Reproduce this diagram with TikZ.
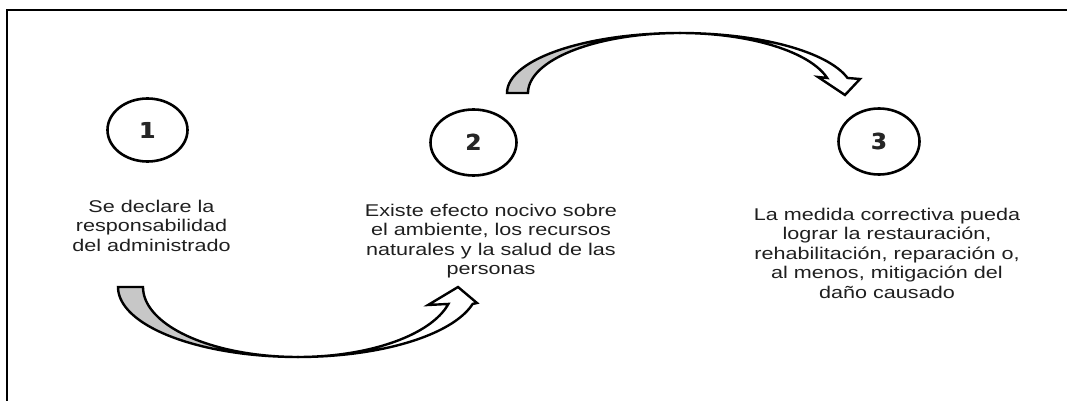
\documentclass[tikz,border=0pt]{standalone}
\usepackage{fontspec}
\setmainfont{Liberation Sans}
\newfontfamily\numfont{DejaVu Sans}
\newcommand\heavydigit[1]{\rlap{#1}\hspace{1.2pt}#1}
\usetikzlibrary{shapes.geometric}
\begin{document}
\begin{tikzpicture}[x=1pt,y=-1pt,
  num/.style={draw, ellipse, line width=2.6pt, inner sep=0pt,
    font=\numfont\fontsize{22}{22}\selectfont\bfseries, text=black!85},
  desc/.style={align=center, inner sep=0pt, anchor=north, xscale=1.27,
    font=\fontsize{17}{19.6}\selectfont, text=black!88},
  band/.style={draw, line width=2.4pt, line join=miter},
  shade/.style={fill=black!22}]
\useasboundingbox (0,0) rectangle (1067,401);
% frame
\draw[line width=2.8pt] (7,401) -- (7,10) -- (1067,10);
% circles
\node[num, minimum width=80pt, minimum height=63pt] (c1) at (147.5,130) {\heavydigit{1}};
\node[num, minimum width=86pt, minimum height=66pt] (c2) at (473.5,142.5) {\heavydigit{2}};
\node[num, minimum width=81pt, minimum height=66pt] (c3) at (879,141.5) {\heavydigit{3}};
% texts
\node[desc] (t1) at (151.5,199.6) {Se declare la\\responsabilidad\\del administrado};
\node[desc] (t2) at (491,203.6) {Existe efecto nocivo sobre\\el ambiente, los recursos\\naturales y la salud de las\\personas};
\node[desc] (t3) at (887,207.6) {La medida correctiva pueda\\lograr la restauración,\\rehabilitación, reparación o,\\al menos, mitigación del\\daño causado};
% bottom curved arrow (1 -> 2)
\draw[band, shade] plot[domain=180:90, samples=40, variable=\t] ({298+180*cos(\t)},{287+70*sin(\t)})
  -- plot[domain=90:180, samples=40, variable=\t] ({298+155*cos(\t)},{287+70*sin(\t)}) -- cycle;
\draw[band, fill=white] plot[domain=90:14, samples=40, variable=\t] ({298+180*cos(\t)},{287+70*sin(\t)})
  -- (477,303) -- (458,287) -- (428,305)
  -- plot[domain=14:90, samples=40, variable=\t] ({298+155*cos(\t)},{287+70*sin(\t)}) -- cycle;
% top curved arrow (2 -> 3)
\draw[band, shade] plot[domain=180:90, samples=40, variable=\t] ({680+173*cos(\t)},{93-60*sin(\t)})
  -- plot[domain=90:180, samples=40, variable=\t] ({680+152*cos(\t)},{93-60*sin(\t)}) -- cycle;
\draw[band, fill=white] plot[domain=90:14.5, samples=40, variable=\t] ({680+173*cos(\t)},{93-60*sin(\t)})
  -- (860,79) -- (845,95) -- (818,77)
  -- plot[domain=14.5:90, samples=40, variable=\t] ({680+152*cos(\t)},{93-60*sin(\t)}) -- cycle;
\end{tikzpicture}
\end{document}
